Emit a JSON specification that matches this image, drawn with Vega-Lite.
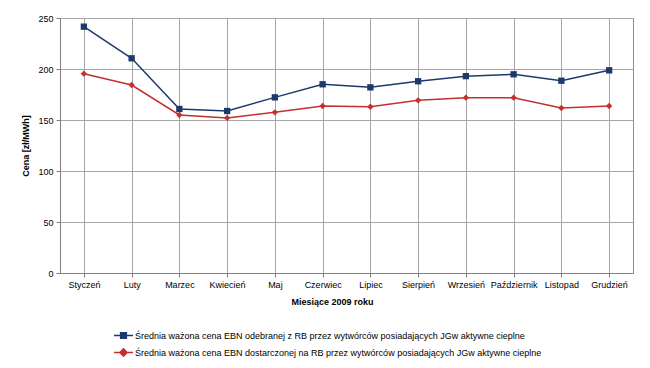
{
  "$schema": "https://vega.github.io/schema/vega-lite/v6.json",
  "autosize": {"type": "none"},
  "width": 573,
  "height": 255,
  "padding": {"left": 60, "top": 18, "right": 17, "bottom": 95},
  "background": "white",
  "config": {
    "font": "Liberation Sans",
    "view": {"stroke": "#8c8c8c", "strokeWidth": 1},
    "axis": {"labelFont": "Liberation Sans", "titleFont": "Liberation Sans", "labelFontSize": 9, "labelColor": "#000", "titleFontSize": 9, "titleFontWeight": "bold", "titleColor": "#000", "domainColor": "#808080", "tickColor": "#808080", "gridColor": "#a6a6a6", "gridWidth": 1}
  },
  "data": {"values": [
    {"m": "Styczeń", "s": "A", "v": 241.5},
    {"m": "Luty", "s": "A", "v": 210.5},
    {"m": "Marzec", "s": "A", "v": 160.8},
    {"m": "Kwiecień", "s": "A", "v": 158.8},
    {"m": "Maj", "s": "A", "v": 172.2},
    {"m": "Czerwiec", "s": "A", "v": 185},
    {"m": "Lipiec", "s": "A", "v": 182},
    {"m": "Sierpień", "s": "A", "v": 188},
    {"m": "Wrzesień", "s": "A", "v": 193},
    {"m": "Październik", "s": "A", "v": 194.8},
    {"m": "Listopad", "s": "A", "v": 188.5},
    {"m": "Grudzień", "s": "A", "v": 198.7},
    {"m": "Styczeń", "s": "B", "v": 195.4},
    {"m": "Luty", "s": "B", "v": 184.3},
    {"m": "Marzec", "s": "B", "v": 154.9},
    {"m": "Kwiecień", "s": "B", "v": 152},
    {"m": "Maj", "s": "B", "v": 157.5},
    {"m": "Czerwiec", "s": "B", "v": 163.7},
    {"m": "Lipiec", "s": "B", "v": 163},
    {"m": "Sierpień", "s": "B", "v": 169.3},
    {"m": "Wrzesień", "s": "B", "v": 171.9},
    {"m": "Październik", "s": "B", "v": 171.9},
    {"m": "Listopad", "s": "B", "v": 161.8},
    {"m": "Grudzień", "s": "B", "v": 163.7}
  ]},
  "encoding": {
    "x": {"field": "m", "type": "nominal", "sort": ["Styczeń","Luty","Marzec","Kwiecień","Maj","Czerwiec","Lipiec","Sierpień","Wrzesień","Październik","Listopad","Grudzień"],
      "scale": {"paddingInner": 0, "paddingOuter": 0},
      "axis": {"title": "Miesiące 2009 roku", "labelAngle": 0, "bandPosition": 0, "tickSize": 4, "labelPadding": 3, "titlePadding": 8, "titleX": 272, "domain": true, "grid": true}},
    "y": {"field": "v", "type": "quantitative", "scale": {"domain": [0, 250]},
      "axis": {"title": "Cena [zł/MWh]", "values": [0, 50, 100, 150, 200, 250], "tickSize": 4, "labelPadding": 3, "titlePadding": 7, "grid": true}},
    "color": {"field": "s", "type": "nominal",
      "scale": {"domain": ["A", "B"], "range": ["#1b3a6b", "#c3302e"]},
      "legend": {"orient": "none", "legendX": 53, "legendY": 307, "title": null,
        "labelExpr": "datum.value === 'A' ? 'Średnia ważona cena EBN odebranej z RB przez wytwórców posiadających JGw aktywne cieplne' : 'Średnia ważona cena EBN dostarczonej na RB przez wytwórców posiadających JGw aktywne cieplne'",
        "labelFontSize": 9, "labelColor": "#000", "labelLimit": 700, "labelOffset": 1,
        "symbolSize": 361, "rowPadding": 0, "symbolStrokeWidth": 1.5,
        "encode": {"symbols": {"update": {
          "shape": {"signal": "datum.value === 'A' ? 'M-1,0H1M-0.3,-0.3H0.3V0.3H-0.3Z' : 'M-1,0H1M0,-0.38L0.38,0L0,0.38L-0.38,0Z'"},
          "fill": {"signal": "datum.value === 'A' ? '#1b3a6b' : '#c3302e'"},
          "stroke": {"signal": "datum.value === 'A' ? '#1b3a6b' : '#c3302e'"},
          "opacity": {"value": 1}
        }}}}}
  },
  "layer": [
    {"mark": {"type": "line", "strokeWidth": 1.5}},
    {"transform": [{"filter": "datum.s === 'A'"}],
     "mark": {"type": "point", "filled": true, "opacity": 1, "size": 40, "shape": "square"}},
    {"transform": [{"filter": "datum.s === 'B'"}],
     "mark": {"type": "point", "filled": true, "opacity": 1, "size": 40, "shape": "diamond"}}
  ]
}
